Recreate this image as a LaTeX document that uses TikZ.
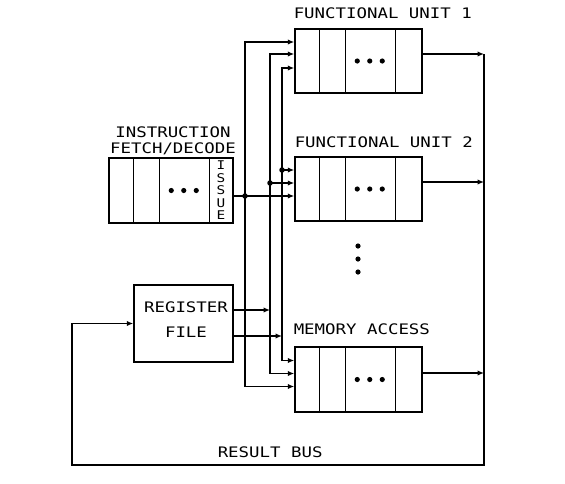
\documentclass[tikz,border=0pt]{standalone}
\usepackage{fontspec}
\usepackage{tikz}
\usetikzlibrary{arrows.meta}
\newfontfamily\plotfont[FakeStretch=1.2]{DejaVu Sans Mono}

\begin{document}
\begin{tikzpicture}[x=1pt, y=-1pt, line width=1.5pt,
    every node/.style={font=\plotfont\fontsize{14.5}{16}\selectfont},
    unitbox/.style={draw, minimum width=127pt, minimum height=64pt, inner sep=0pt},
    conn/.style={-{Latex[length=6.5pt,width=5.5pt]}},
    junc/.style={circle, fill, inner sep=0pt, minimum size=5.5pt}]
        \useasboundingbox (0,0) rectangle (565,483);
        % Boxes
        \node[unitbox] (fu1) at (358.5,61) {};
        \node[unitbox] (fu2) at (358.5,189) {};
        \node[unitbox, minimum height=65pt] (mem) at (358.5,379.5) {};
        \node[unitbox, minimum width=124pt, minimum height=65pt] (ifd) at (171,190.5) {};
        \node[draw, minimum width=99pt, minimum height=77pt, inner sep=0pt] (reg) at (183.5,323.5) {};

        % Cells and dots
        \foreach \u in {fu1,fu2,mem,ifd} {
            \foreach \d in {25,51,101}
                \draw ([xshift=\d pt]\u.north west) -- ([xshift=\d pt]\u.south west);
            \foreach \d in {63,75.5,88}
                \fill ([xshift=\d pt]\u.west) circle (2.6pt);
        }
        \foreach \y in {246,259,272}
            \fill (358,\y) circle (2.6pt);

        % Labels
        \node[anchor=west, inner sep=0pt] (fu1lbl) at (293,13) {FUNCTIONAL UNIT 1};
        \node[anchor=west, inner sep=0pt] (fu2lbl) at (294,142) {FUNCTIONAL UNIT 2};
        \node[anchor=west, inner sep=0pt] (memlbl) at (293,329) {MEMORY ACCESS};
        \node[align=center, inner sep=0pt] (ifdlbl) at (173,140.5) {INSTRUCTION\\FETCH/DECODE};
        \node[align=center, inner sep=0pt, font=\plotfont\fontsize{12}{12.5}\selectfont] (iss) at (221,190.5) {I\\S\\S\\U\\E};
        \node[align=center, inner sep=0pt, font=\plotfont\fontsize{14.5}{25}\selectfont] (reglbl) at (186,319.5) {REGISTER\\FILE};
        \node[anchor=west, inner sep=0pt] (buslbl) at (217,452) {RESULT BUS};

        % Issue buses
        \coordinate (busA) at (245,196);
        \coordinate (busB) at (270,183);
        \coordinate (busC) at (282,170);
        \coordinate (regB) at (270,310);
        \coordinate (regC) at (282,336);
        \coordinate (rb) at (484,465);
        \coordinate (lb) at (72,465);

        \draw[conn] (ifd.east |- busA) -- (fu2.west |- busA);
        \draw[conn] (busA) |- ([yshift=19pt]fu1.west);
        \draw[conn] (busA) |- ([yshift=-7pt]mem.west);
        \draw[conn] (busB) -- (fu2.west |- busB);
        \draw[conn] (busB) |- ([yshift=7pt]fu1.west);
        \draw[conn] (busB) |- ([yshift=6pt]mem.west);
        \draw[conn] (busC) -- (fu2.west |- busC);
        \draw[conn] (busC) |- ([yshift=-7pt]fu1.west);
        \draw[conn] (busC) |- ([yshift=19pt]mem.west);
        \node[junc] (jA) at (busA) {};
        \node[junc] (jB) at (busB) {};
        \node[junc] (jC) at (busC) {};

        % Register file outputs
        \draw[conn] (reg.east |- regB) -- (regB);
        \draw[conn] (reg.east |- regC) -- (regC);

        % Result bus
        \draw[conn] ([yshift=7pt]fu1.east) -- ([yshift=7pt]fu1.east -| rb);
        \draw[conn] ([yshift=7pt]fu2.east) -- ([yshift=7pt]fu2.east -| rb);
        \draw[conn] ([yshift=6.5pt]mem.east) -- ([yshift=6.5pt]mem.east -| rb);
        \draw[conn] ([yshift=7pt]fu1.east -| rb) -- (rb) -- (lb) |- (reg.west);
    \end{tikzpicture}
\end{document}
